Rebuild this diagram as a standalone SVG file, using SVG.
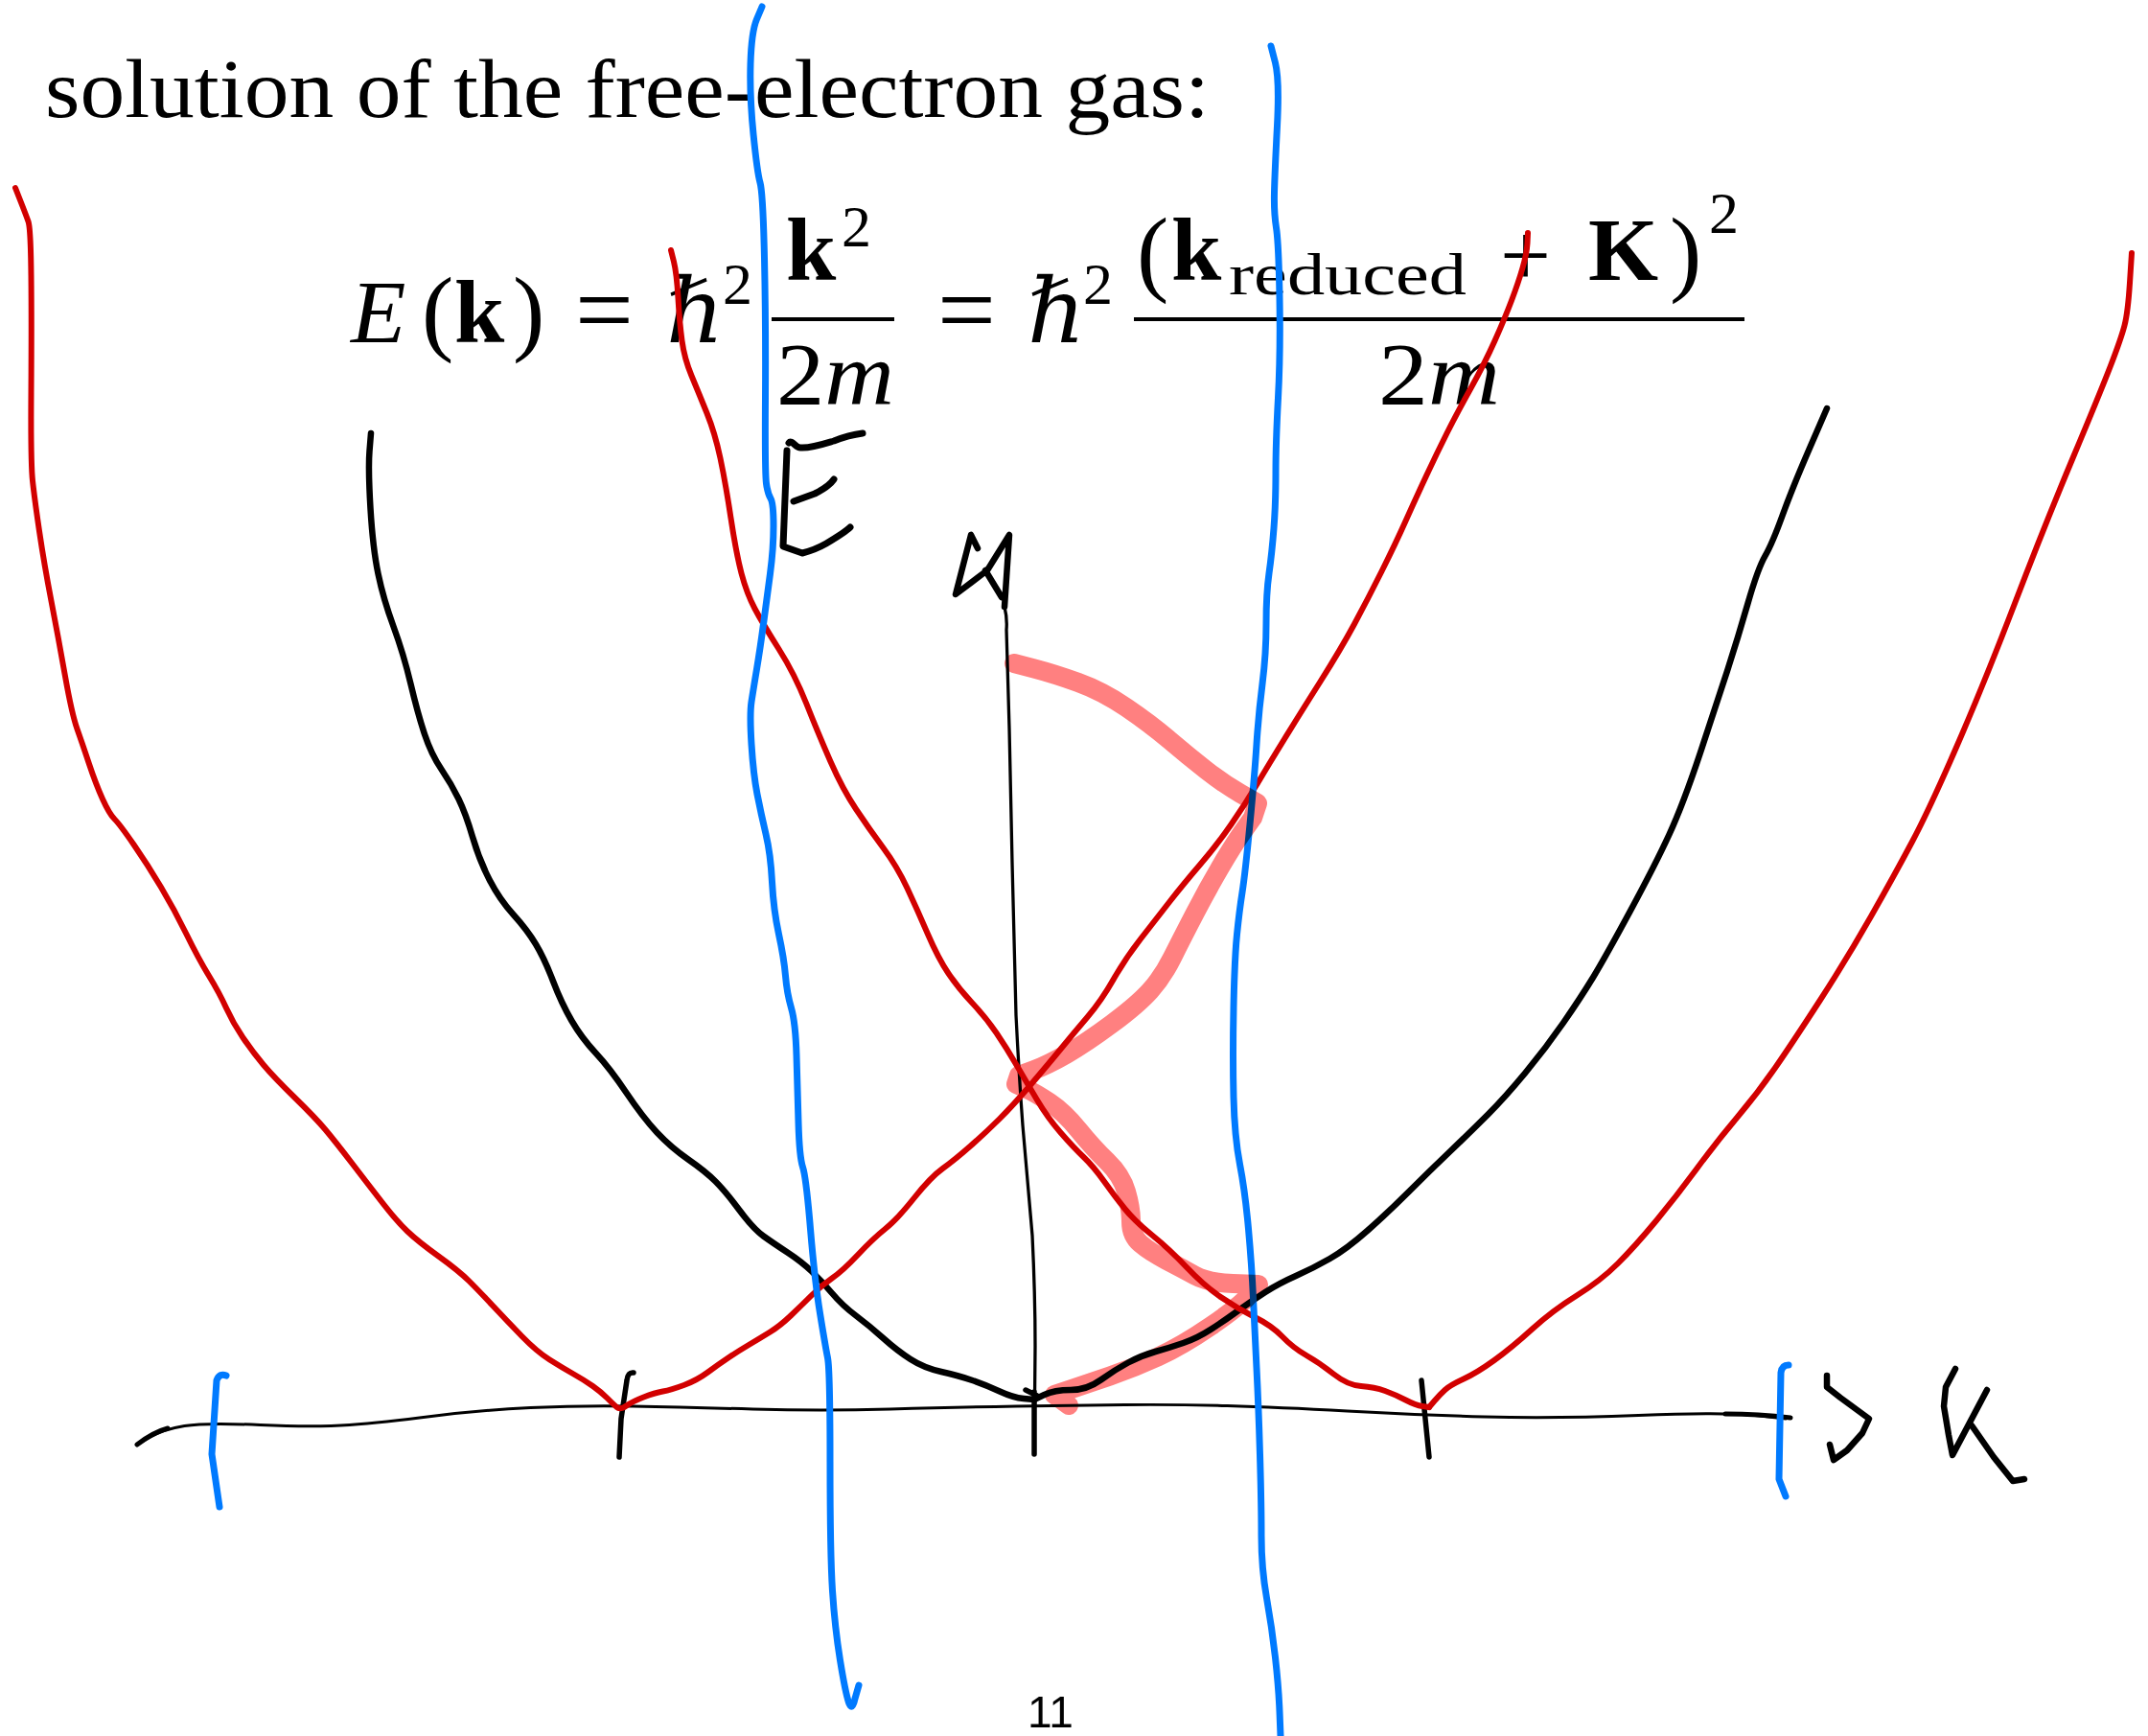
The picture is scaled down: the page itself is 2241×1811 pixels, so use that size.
<svg xmlns="http://www.w3.org/2000/svg" width="2241" height="1811" viewBox="0 0 2241 1811">
<style>
.ink{fill:none;stroke-linecap:round;stroke-linejoin:round}
.red{stroke:#d20000;stroke-width:6}
.blue{stroke:#007aff;stroke-width:7}
.blk{stroke:#000;stroke-width:6.5}
.thin{stroke:#000;stroke-width:3}
.hl{fill:none;stroke:#ff8080;stroke-width:20;stroke-linecap:round;stroke-linejoin:round;mix-blend-mode:multiply}
.t{font-family:"Liberation Serif","DejaVu Serif",serif;fill:#000}
.m{font-family:"Liberation Serif","DejaVu Serif",serif;fill:#000;font-size:94px}
.p{font-size:100px}
.eq{font-size:108px}
.it{font-style:italic}
.bd{font-weight:bold}
.sm{font-size:62px}
</style>
<rect width="2241" height="1811" fill="#fff"/>
<g id="title">
<text class="t" x="47" y="122" font-size="86" textLength="1215" lengthAdjust="spacingAndGlyphs">solution of  the free-electron gas:</text>
</g>
<g id="formula">
<text class="m it" x="366" y="357">E</text>
<text class="m p" x="440" y="358">(</text>
<text class="m bd" x="474" y="357">k</text>
<text class="m p" x="535" y="358">)</text>
<text class="m eq" x="600" y="359">=</text>
<text class="m it" x="695" y="357">ℏ</text>
<text class="m sm" x="754" y="317">2</text>
<line x1="805" y1="333" x2="933" y2="333" stroke="#000" stroke-width="4"/>
<text class="m bd" x="820" y="292">k</text>
<text class="m sm" x="878" y="257">2</text>
<text class="m" x="810" y="422" textLength="123" lengthAdjust="spacingAndGlyphs">2<tspan class="it">m</tspan></text>
<text class="m eq" x="978" y="359">=</text>
<text class="m it" x="1072" y="357">ℏ</text>
<text class="m sm" x="1130" y="317">2</text>
<line x1="1183" y1="333" x2="1820" y2="333" stroke="#000" stroke-width="4"/>
<text class="m p" x="1186" y="296">(</text>
<text class="m bd" x="1222" y="292">k</text>
<text class="m sm" x="1282" y="307" textLength="248" lengthAdjust="spacingAndGlyphs">reduced</text>
<text class="m" x="1565" y="298" font-size="120">+</text>
<text class="m bd" x="1657" y="292">K</text>
<text class="m p" x="1742" y="296">)</text>
<text class="m sm" x="1783" y="243">2</text>
<text class="m" x="1438" y="422" textLength="127" lengthAdjust="spacingAndGlyphs">2<tspan class="it">m</tspan></text>
</g>
<g id="axes">
<path class="ink thin" d="M143,1507 L157,1499 Q171,1491 192.5,1487.5 Q214,1484 271.5,1486.5 Q329,1489 364.5,1486.5 Q400,1484 450,1477.5 Q500,1471 553.5,1468.5 Q607,1466 660.5,1467 Q714,1468 785.5,1470 Q857,1472 928.5,1470 Q1000,1468 1060,1467 Q1120,1466 1173.5,1465.5 Q1227,1465 1280.5,1466.5 Q1334,1468 1405.5,1472 Q1477,1476 1548.5,1478 Q1620,1480 1709.5,1476.5 Q1799,1473 1831,1476.5 L1863,1480"/>
<path class="ink" stroke="#000" stroke-width="5" d="M1800,1475 Q1835,1475 1868,1479 M143,1507 Q160,1494 175,1490"/>
<path class="ink" stroke="#000" stroke-width="3.3" d="M1048,633 Q1051,645 1050,657 L1053,760 L1056,900 Q1058,990 1060,1059 Q1063,1120 1067,1174 L1077,1289 Q1080,1350 1080,1404 L1079,1517"/>
<path class="ink blk" d="M1020,572 L1013,558 L997,620 L1030,595 L1053,558 L1048,633 M1028,595 L1045,623"/>
<path class="ink" stroke="#000" stroke-width="5.5" d="M661,1432 Q655,1431 654,1440 L648,1480 L646,1520 M1079,1452 L1079,1517 M1070,1450 L1082,1456 M1483,1440 L1487,1480 L1491,1520"/>
<path class="ink blk" d="M1906,1435 L1906,1447 L1920,1458 L1950,1480 L1943,1495 L1927,1513 L1913,1523 L1909,1507"/>
<path class="ink blk" d="M2040,1428 L2030,1447 L2028,1467 L2033,1497 L2037,1518 L2073,1450 M2057,1487 L2080,1520 L2100,1545 L2112,1543"/>
<path class="ink" stroke="#000" stroke-width="7" d="M823,462 C826,458 830,467 835,467 C845,468 860,463 870,460 C880,456 892,453 900,452 M821,470 L817,570 L837,577 C845,575 855,571 862,567 C872,561 882,555 887,550 M828,523 L850,515 C858,511 866,506 870,500"/>
</g>
<g id="bands">
<path class="ink blk" d="M387,452 L385.5,470.5 Q384,489 386.5,530.5 Q389,572 394.5,598.5 Q400,625 410.5,653.5 Q421,682 428.5,713.5 Q436,745 443,766 Q450,787 460.5,802.5 Q471,818 478.5,833.5 Q486,849 493,873 Q500,897 510.5,917.5 Q521,938 535.5,954 Q550,970 559,985 Q568,1000 577,1023.5 Q586,1047 596.5,1065 Q607,1083 621.5,1098.5 Q636,1114 653.5,1140 Q671,1166 685.5,1181.5 Q700,1197 718,1209.5 Q736,1222 746.5,1232.5 Q757,1243 771.5,1262.5 Q786,1282 796.5,1289.5 Q807,1297 821.5,1306.5 Q836,1316 846.5,1326 Q857,1336 868,1349 Q879,1362 893,1372.5 Q907,1383 921.5,1396 Q936,1409 950,1418 Q964,1427 982,1431 Q1000,1435 1014.5,1440 Q1029,1445 1043,1451.5 Q1057,1458 1068,1459 L1079,1460"/>
<path class="ink blk" d="M1079,1460 L1089.5,1455 Q1100,1450 1117,1450 Q1134,1450 1148.5,1439.5 Q1163,1429 1177,1421.5 Q1191,1414 1205.5,1410 Q1220,1406 1234.5,1401 Q1249,1396 1263,1387 Q1277,1378 1291.5,1367.5 Q1306,1357 1320,1348 Q1334,1339 1352,1331 Q1370,1323 1387.5,1313 Q1405,1303 1427,1283.5 Q1449,1264 1470,1243 Q1491,1222 1512.5,1201.5 Q1534,1181 1552,1163 Q1570,1145 1591.5,1119 Q1613,1093 1631,1067 Q1649,1041 1661.5,1020.5 Q1674,1000 1700.5,951 Q1727,902 1741.5,870.5 Q1756,839 1773.5,786.5 Q1791,734 1802,700 Q1813,666 1823.5,629.5 Q1834,593 1841.5,580 Q1849,567 1859.5,538 Q1870,509 1888,467.5 L1906,426"/>
<path class="ink red" d="M16,196 L21.5,210 Q27,224 29.5,231 Q32,238 32.5,287.5 Q33,337 32.5,410 Q32,483 34,501.5 Q36,520 41,554 Q46,588 53.5,627 Q61,666 68,705.5 Q75,745 80.5,760.5 Q86,776 93,797 Q100,818 107,833.5 Q114,849 119.5,854.5 Q125,860 139.5,881 Q154,902 168,925.5 Q182,949 194.5,974.5 Q207,1000 218,1018 Q229,1036 236,1051.5 Q243,1067 253.5,1082.5 Q264,1098 275,1111 Q286,1124 307.5,1145 Q329,1166 339.5,1178.5 Q350,1191 368,1214.5 Q386,1238 400,1256 Q414,1274 425,1284.5 Q436,1295 457.5,1310.5 Q479,1326 489.5,1336.5 Q500,1347 514.5,1362.5 Q529,1378 544.5,1394 Q560,1410 573.5,1418.5 Q587,1427 598.5,1433.5 Q610,1440 618.5,1446 Q627,1452 633.5,1458.5 Q640,1465 643.5,1468 Q647,1471 653.5,1466.5 Q660,1462 671.5,1457.5 Q683,1453 691.5,1451.5 Q700,1450 713.5,1445 Q727,1440 738.5,1431.5 Q750,1423 760.5,1416 Q771,1409 782,1402.5 Q793,1396 803.5,1389.5 Q814,1383 825,1372.5 Q836,1362 846.5,1351.5 Q857,1341 868,1333.5 Q879,1326 895,1309 Q911,1292 923.5,1282 Q936,1272 953.5,1250 Q971,1228 983.5,1219 Q996,1210 1012.5,1195.5 Q1029,1181 1043,1167 Q1057,1153 1075,1132 Q1093,1111 1106.5,1094.5 Q1120,1078 1134.5,1061 Q1149,1044 1161.5,1022 Q1174,1000 1190,979.5 Q1206,959 1220,941 Q1234,923 1252,902 Q1270,881 1284.5,860 Q1299,839 1311.5,818 Q1324,797 1340,771 Q1356,745 1377.5,711 Q1399,677 1413,651 Q1427,625 1441.5,596 Q1456,567 1466.5,543.5 Q1477,520 1488,496.5 Q1499,473 1509.5,452 Q1520,431 1534.5,405 Q1549,379 1559.5,355.5 Q1570,332 1577,313.5 Q1584,295 1588.5,279.5 Q1593,264 1593.5,253.5 L1594,243"/>
<path class="ink red" d="M700,261 L703,273 Q706,285 707.5,311 Q709,337 711.5,355.5 Q714,374 721.5,392 Q729,410 737.5,431 Q746,452 751.5,478 Q757,504 762.5,540.5 Q768,577 773.5,598 Q779,619 787.5,635 Q796,651 812.5,677 Q829,703 841.5,734.5 Q854,766 866.5,794.5 Q879,823 893,844 Q907,865 921.5,884.5 Q936,904 946.5,926.5 Q957,949 968,974.5 Q979,1000 989.5,1015.5 Q1000,1031 1014.5,1046.5 Q1029,1062 1039.5,1077.5 Q1050,1093 1060.5,1111 Q1071,1129 1082,1147.5 Q1093,1166 1106.5,1181.5 Q1120,1197 1130.5,1207 Q1141,1217 1152,1232.5 Q1163,1248 1173.5,1261 Q1184,1274 1202,1288.5 Q1220,1303 1238,1322 Q1256,1341 1273.5,1353 Q1291,1365 1309,1374 Q1327,1383 1338,1394.5 Q1349,1406 1363,1414 Q1377,1422 1391.5,1433.5 Q1406,1445 1420,1446 Q1434,1447 1445,1451 Q1456,1455 1466.5,1460.5 Q1477,1466 1484,1467 L1491,1468"/>
<path class="ink red" d="M1491,1468 L1496.5,1461.5 Q1502,1455 1507.5,1450 Q1513,1445 1527,1438.5 Q1541,1432 1559,1419 Q1577,1406 1598.5,1386.5 Q1620,1367 1645,1351.5 Q1670,1336 1688,1318 Q1706,1300 1727.5,1274 Q1749,1248 1770,1219.5 Q1791,1191 1812.5,1165.5 Q1834,1140 1852,1114 Q1870,1088 1898.5,1044 Q1927,1000 1952,956 Q1977,912 1995,878 Q2013,844 2041.5,778.5 Q2070,713 2102,629.5 Q2134,546 2162.5,478 Q2191,410 2202,381.5 Q2213,353 2216.5,339.5 Q2220,326 2222,295 L2224,264"/>
</g>
<g id="zone-boundaries">
<path class="ink blue" d="M795,7 L789.5,20 Q784,33 783,66.5 Q782,100 786,140 Q790,180 793,190.5 Q796,201 797.5,269 Q799,337 798.5,415.5 Q798,494 799.5,504.5 Q801,515 804,520 Q807,525 807,548.5 Q807,572 803.5,598.5 Q800,625 796.5,651 Q793,677 789.5,698 Q786,719 784,732 Q782,745 784,776.5 Q786,808 790,828.5 Q794,849 799,870 Q804,891 805.5,920 Q807,949 812.5,974.5 Q818,1000 819.5,1018 Q821,1036 825.5,1051.5 Q830,1067 831,1101 Q832,1135 833,1171 Q834,1207 837.5,1217.5 Q841,1228 845.5,1282 Q850,1336 855.5,1370 Q861,1404 863.5,1416.5 Q866,1429 866,1525 Q866,1621 868.5,1659.5 Q871,1698 876.5,1732 Q882,1766 885.5,1776 Q889,1786 892,1772 L896,1758"/>
<path class="ink blue" d="M1326,48 L1330.5,65.5 Q1335,83 1332.5,131.5 Q1330,180 1329.5,201 Q1329,222 1331.5,237.5 Q1334,253 1335,310.5 Q1336,368 1333.5,415 Q1331,462 1331,493.5 Q1331,525 1329,551 Q1327,577 1324,598 Q1321,619 1321,650.5 Q1321,682 1317,713.5 Q1313,745 1311,776.5 Q1309,808 1304,860 Q1299,912 1296,931 Q1293,950 1290.5,975 Q1288,1000 1287,1051.5 Q1286,1103 1287,1144.5 Q1288,1186 1293.5,1214.5 Q1299,1243 1302.5,1282 Q1306,1321 1307.5,1354.5 Q1309,1388 1311,1427 Q1313,1466 1314.5,1517.5 Q1316,1569 1316,1602.5 Q1316,1636 1321.5,1667 Q1327,1698 1330.5,1729 Q1334,1760 1335,1785.5 L1336,1811"/>
<path class="ink blue" d="M236,1435 Q229,1432 226,1440 L221,1517 L229,1572"/>
<path class="ink blue" d="M1866,1424 Q1859,1424 1858,1432 L1856,1543 L1863,1561"/>
</g>
<g id="highlight">
<path class="hl" d="M1058,692 L1079,697.5 Q1100,703 1125,712 Q1150,721 1175,738 Q1200,755 1220,772 Q1240,789 1258.5,803.5 Q1277,818 1294.5,828 L1312,838 L1307,853 L1297,867 Q1287,881 1273.5,904 Q1260,927 1246.5,953 Q1233,979 1223,999 Q1213,1019 1200,1033.5 Q1187,1048 1160,1068 Q1133,1088 1113,1099.5 Q1093,1111 1078,1116.5 L1063,1122 L1060,1131 L1070,1135.5 Q1080,1140 1095,1150 Q1110,1160 1125,1178.5 Q1140,1197 1155,1211.5 Q1170,1226 1175,1243 Q1180,1260 1180,1274.5 Q1180,1289 1190,1297.5 Q1200,1306 1216.5,1314.5 Q1233,1323 1246.5,1330.5 Q1260,1338 1286.5,1339 L1313,1340 L1303,1351.5 Q1293,1363 1263,1383.5 Q1233,1404 1208,1415.5 Q1183,1427 1158,1435.5 Q1133,1444 1116.5,1449.5 L1100,1455 L1115,1466"/>
</g>
<g id="page-number">
<text x="1096" y="1802" font-family="Liberation Sans, Arial, sans-serif" font-size="46" text-anchor="middle">11</text>
</g>
</svg>
